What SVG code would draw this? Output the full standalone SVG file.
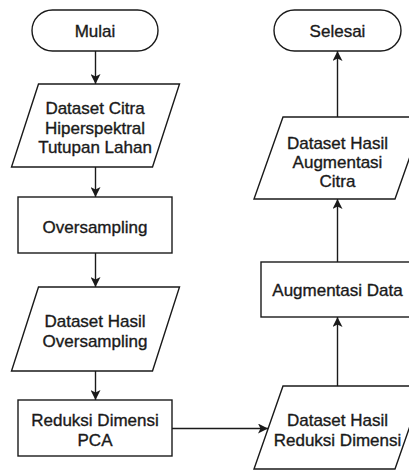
<svg xmlns="http://www.w3.org/2000/svg" width="409" height="470" viewBox="0 0 409 470">
  <style>
    .shape { fill: #ffffff; stroke: #1a1a1a; stroke-width: 1.4; }
    .edge { fill: none; stroke: #1a1a1a; stroke-width: 1.4; }
    .label { font-family: "Liberation Sans", Arial, sans-serif; font-size: 17px; fill: #1a1a1a; stroke: #1a1a1a; stroke-width: 0.35; text-anchor: middle; }
  </style>
  <defs>
    <marker id="arrow" viewBox="0 0 10 10" refX="10" refY="5" markerWidth="10" markerHeight="10" markerUnits="userSpaceOnUse" orient="auto">
      <path d="M0,0 L10,5 L0,10 L2.5,5 Z" fill="#1a1a1a"/>
    </marker>
  </defs>
  <rect width="409" height="470" fill="#ffffff"/>

  <g id="connectors">
    <line class="edge" x1="95.5" y1="51" x2="95.5" y2="84" marker-end="url(#arrow)"/>
    <line class="edge" x1="95.5" y1="167" x2="95.5" y2="197" marker-end="url(#arrow)"/>
    <line class="edge" x1="95.5" y1="253" x2="95.5" y2="287" marker-end="url(#arrow)"/>
    <line class="edge" x1="95.5" y1="371" x2="95.5" y2="400" marker-end="url(#arrow)"/>
    <line class="edge" x1="172" y1="428.5" x2="268" y2="428.5" marker-end="url(#arrow)"/>
    <line class="edge" x1="337.5" y1="386" x2="337.5" y2="317" marker-end="url(#arrow)"/>
    <line class="edge" x1="337.5" y1="262" x2="337.5" y2="199" marker-end="url(#arrow)"/>
    <line class="edge" x1="337.5" y1="117" x2="337.5" y2="51" marker-end="url(#arrow)"/>
  </g>

  <g id="mulai">
    <rect class="shape" x="32" y="10" width="126" height="41" rx="20.5"/>
    <text class="label" x="95" y="36.5">Mulai</text>
  </g>

  <g id="dataset-citra">
    <polygon class="shape" points="38.5,84 179.5,84 152.5,167 11.5,167"/>
    <text class="label" x="95" y="114">Dataset Citra</text>
    <text class="label" x="95" y="133.5">Hiperspektral</text>
    <text class="label" x="95" y="153">Tutupan Lahan</text>
  </g>

  <g id="oversampling">
    <rect class="shape" x="18" y="197" width="154" height="56"/>
    <text class="label" x="95" y="233">Oversampling</text>
  </g>

  <g id="dataset-oversampling">
    <polygon class="shape" points="38.5,287 179.5,287 152.5,371 11.5,371"/>
    <text class="label" x="95" y="327">Dataset Hasil</text>
    <text class="label" x="95" y="346.5">Oversampling</text>
  </g>

  <g id="reduksi-pca">
    <rect class="shape" x="18" y="400" width="154" height="56"/>
    <text class="label" x="95" y="426">Reduksi Dimensi</text>
    <text class="label" x="95" y="445.5">PCA</text>
  </g>

  <g id="dataset-reduksi">
    <polygon class="shape" points="283,386 424,386 395,469 254,469"/>
    <text class="label" x="337.5" y="426">Dataset Hasil</text>
    <text class="label" x="337.5" y="446">Reduksi Dimensi</text>
  </g>

  <g id="augmentasi">
    <rect class="shape" x="261" y="262" width="152" height="55"/>
    <text class="label" x="337.5" y="296">Augmentasi Data</text>
  </g>

  <g id="dataset-augmentasi">
    <polygon class="shape" points="283,117 424,117 395,199 254,199"/>
    <text class="label" x="337.5" y="149">Dataset Hasil</text>
    <text class="label" x="337.5" y="168">Augmentasi</text>
    <text class="label" x="337.5" y="187">Citra</text>
  </g>

  <g id="selesai">
    <rect class="shape" x="274" y="10" width="127" height="41" rx="20.5"/>
    <text class="label" x="337.5" y="36.5">Selesai</text>
  </g>
</svg>
